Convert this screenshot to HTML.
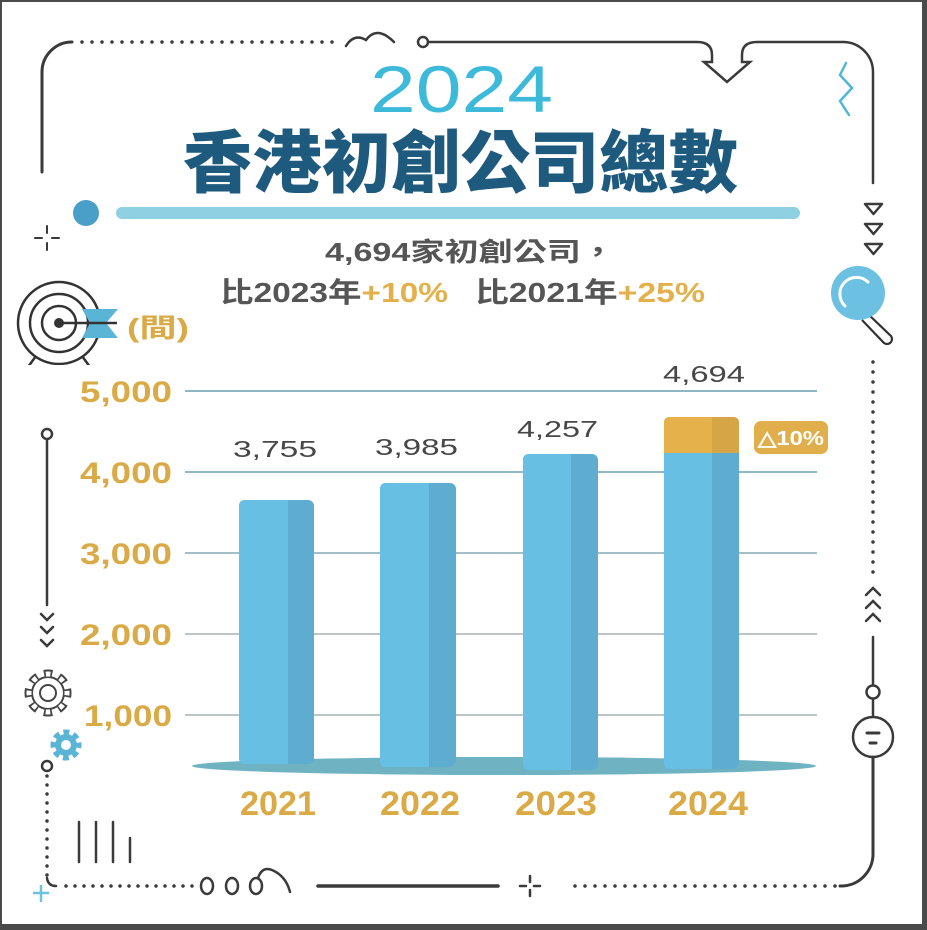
<!DOCTYPE html>
<html><head><meta charset="utf-8"><style>
html,body{margin:0;padding:0;background:#fff;}
svg{display:block;}
.cjk{font-family:"Liberation Sans","Noto Sans CJK TC","Noto Sans CJK SC",sans-serif;}
.lat{font-family:"Liberation Sans",sans-serif;}
</style></head><body>
<svg width="927" height="930" viewBox="0 0 927 930" xmlns="http://www.w3.org/2000/svg">
<rect x="0" y="0" width="927" height="930" fill="#4a4a4a"/>
<rect x="2" y="2" width="920" height="922" fill="#ffffff"/>

<!-- frame lines -->
<g fill="none" stroke="#3a3a3a" stroke-width="3" stroke-linecap="round">
  <path d="M42,172 V72 A30,30 0 0 1 72,42"/>
  <path d="M82,42 H338" stroke-dasharray="0 10" stroke-width="3.5"/>
  <path d="M346,46 Q354,33 366,40 Q377,25 394,42" stroke-width="2.5"/>
  <circle cx="423" cy="42" r="5" stroke-width="2.5"/>
  <path d="M428,42 H697 Q712,42 712,55 V62 H704 L727,82 L750,62 H742 V55 Q742,42 757,42 H843 A30,30 0 0 1 873,72 V183" stroke-width="2.5"/>
  <!-- right side -->
  <path d="M873,362 V575" stroke-dasharray="0 10" stroke-width="3.5"/>
  <path d="M866,595 L873,588 L880,595 M866,608 L873,601 L880,608 M866,621 L873,614 L880,621" stroke-width="2.5"/>
  <path d="M873,637 V685" stroke-width="2.5"/>
  <circle cx="873" cy="692" r="6.5" stroke-width="2.5"/>
  <path d="M873,699 V716" stroke-width="2.5"/>
  <circle cx="873" cy="737" r="20" stroke-width="2.5"/>
  <path d="M873,757 V853 A32,32 0 0 1 840,886" stroke-width="3"/>
  <path d="M835,886 H572" stroke-dasharray="0 10" stroke-width="3.5"/>
  <!-- bottom -->
  <path d="M530,876 V882 M530,890 V896 M520,886 H526 M534,886 H540" stroke-width="2.5"/>
  <path d="M318,886 H498" stroke-width="3.5"/>
  <ellipse cx="207" cy="886" rx="6" ry="8" stroke-width="2.5"/>
  <ellipse cx="232" cy="886" rx="6" ry="8" stroke-width="2.5"/>
  <ellipse cx="256" cy="886" rx="6" ry="8" stroke-width="2.5"/>
  <path d="M258,878 Q262,866 272,870 Q286,876 290,892" stroke-width="2.5"/>
  <path d="M192,886 H60" stroke-dasharray="0 9" stroke-width="3.5"/>
  <path d="M47,776 V880" stroke-dasharray="0 9" stroke-width="3.5"/>
  <path d="M47,878 Q48,886 56,886" stroke-width="2.5"/>
  <circle cx="47" cy="766" r="5" stroke-width="2.5"/>
  <!-- left side -->
  <circle cx="47" cy="434" r="5" stroke-width="2.5"/>
  <path d="M47,440 V605" stroke-width="2.5"/>
  <path d="M41,614 L47,620 L53,614 M41,627 L47,633 L53,627 M41,640 L47,646 L53,640" stroke-width="2.5"/>
  <!-- crosses -->
  <path d="M47,226 V233 M47,243 V250 M35,238 H42 M52,238 H59" stroke-width="2"/>
  <!-- four vertical lines -->
  <path d="M79,822 V862 M96,822 V862 M113,822 V862 M130,838 V862" stroke-width="2.5"/>
  <!-- triangles -->
  <path d="M865,204 H882 L873.5,214 Z M865,224 H882 L873.5,234 Z M865,244 H882 L873.5,254 Z" stroke-width="2.5" stroke-linejoin="round"/>
  <!-- equals in circle -->
  <path d="M867,733 H879 M870,743 H876" stroke-width="3"/>
</g>

<!-- cyan plus bottom-left -->
<path d="M41,885 V902 M33,893 H49" stroke="#6cc3df" stroke-width="2.5" fill="none"/>
<!-- cyan zigzag -->
<path d="M846,63 L840,75 L852,88 L840,101 L849,115" stroke="#4fb6dc" stroke-width="2.5" fill="none" stroke-linecap="round"/>

<!-- magnifier -->
<g>
  <path d="M868,314 L891,336 A5,5 0 0 1 884,343 L862,320" fill="#fff" stroke="#333" stroke-width="2.2"/>
  <circle cx="858" cy="293" r="27" fill="#6cc0e2"/>
  <path d="M845,306 A16,16 0 0 1 868,282" fill="none" stroke="#fff" stroke-width="3" stroke-linecap="round"/>
</g>

<!-- target icon -->
<g fill="none" stroke="#333" stroke-width="2.5">
  <circle cx="59" cy="323" r="41"/>
  <circle cx="59" cy="323" r="29"/>
  <circle cx="59" cy="323" r="17"/>
  <path d="M28,367 L36,356 M90,367 L82,356"/>
</g>
<rect x="24" y="365" width="72" height="6" fill="#fff"/>
<polygon points="82,309 118,309 106,323 118,338 82,338 90,323" fill="#5ab4d6"/>
<line x1="59" y1="323" x2="117" y2="323" stroke="#333" stroke-width="2.5"/>
<circle cx="59" cy="323" r="5" fill="#333"/>

<!-- outline gear -->
<g transform="translate(48,693)">
  <circle r="19" fill="none" stroke="#444" stroke-width="9" stroke-dasharray="8 6.92" stroke-dashoffset="4"/>
  <circle r="17" fill="#444"/>
  <circle r="19" fill="none" stroke="#fff" stroke-width="5" stroke-dasharray="4.6 10.32" stroke-dashoffset="2.3"/>
  <circle r="15" fill="#fff"/>
  <circle r="8" fill="none" stroke="#444" stroke-width="2"/>
</g>
<!-- blue gear -->
<g transform="translate(66,745)">
  <circle r="12" fill="none" stroke="#5ab4d6" stroke-width="7" stroke-dasharray="5.5 3.92" stroke-dashoffset="2.75"/>
  <circle r="11" fill="#5ab4d6"/>
  <circle r="5" fill="#fff"/>
</g>

<!-- title -->
<text x="370" y="112" class="lat" font-size="66" fill="#3db9d9" textLength="183" lengthAdjust="spacingAndGlyphs">2024</text>
<text x="183" y="187" class="cjk" font-size="68" font-weight="900" fill="#1e5a7e" textLength="555" lengthAdjust="spacingAndGlyphs">香港初創公司總數</text>

<!-- cyan bar and dot -->
<rect x="116" y="207" width="684" height="12" rx="6" fill="#8fd0e3"/>
<circle cx="86" cy="213" r="13" fill="#4a9fc8"/>

<!-- subtitle -->
<text x="325" y="261" class="cjk" font-size="26" font-weight="700" fill="#555" textLength="290" lengthAdjust="spacingAndGlyphs">4,694家初創公司，</text>
<text x="220" y="302" class="cjk" font-size="28" font-weight="700" fill="#555" textLength="228" lengthAdjust="spacingAndGlyphs">比2023年<tspan fill="#e3b04b">+10%</tspan></text>
<text x="475" y="302" class="cjk" font-size="28" font-weight="700" fill="#555" textLength="230" lengthAdjust="spacingAndGlyphs">比2021年<tspan fill="#e3b04b">+25%</tspan></text>

<!-- unit -->
<text x="127" y="337" class="cjk" font-size="26" font-weight="700" fill="#d9aa45" textLength="62" lengthAdjust="spacingAndGlyphs">(間)</text>

<!-- gridlines -->
<g stroke-width="2">
  <line x1="185" y1="391" x2="817" y2="391" stroke="#8db8c4"/>
  <line x1="185" y1="472" x2="817" y2="472" stroke="#8db8c4"/>
  <line x1="185" y1="553" x2="817" y2="553" stroke="#a3c0c8"/>
  <line x1="185" y1="634" x2="817" y2="634" stroke="#bcc5c8"/>
  <line x1="185" y1="715" x2="817" y2="715" stroke="#bcc5c8"/>
</g>

<!-- y labels -->
<g class="lat" font-size="30" font-weight="700" fill="#d9aa45" text-anchor="end">
  <text x="172" y="402" textLength="92" lengthAdjust="spacingAndGlyphs">5,000</text>
  <text x="172" y="483" textLength="92" lengthAdjust="spacingAndGlyphs">4,000</text>
  <text x="172" y="564" textLength="92" lengthAdjust="spacingAndGlyphs">3,000</text>
  <text x="172" y="645" textLength="92" lengthAdjust="spacingAndGlyphs">2,000</text>
  <text x="172" y="726" textLength="88" lengthAdjust="spacingAndGlyphs">1,000</text>
</g>

<!-- base ellipse -->
<ellipse cx="504" cy="766" rx="312" ry="9" fill="#6fb2c2"/>

<!-- bars -->
<g>
  <rect x="239" y="500" width="75" height="264" rx="6" fill="#5eadd1"/>
  <path d="M239,758 V506 Q239,500 245,500 H288 V764 H245 Q239,764 239,758 Z" fill="#68bfe4"/>

  <rect x="380" y="483" width="76" height="284" rx="6" fill="#5eadd1"/>
  <path d="M380,761 V489 Q380,483 386,483 H429 V767 H386 Q380,767 380,761 Z" fill="#68bfe4"/>

  <rect x="523" y="454" width="75" height="316" rx="6" fill="#5eadd1"/>
  <path d="M523,764 V460 Q523,454 529,454 H571 V770 H529 Q523,770 523,764 Z" fill="#68bfe4"/>

  <rect x="664" y="417" width="75" height="352" rx="6" fill="#5eadd1"/>
  <path d="M664,763 V453 H712 V769 H670 Q664,769 664,763 Z" fill="#68bfe4"/>
  <path d="M664,453 V423 Q664,417 670,417 H733 Q739,417 739,423 V453 Z" fill="#d6a545"/>
  <path d="M664,453 V423 Q664,417 670,417 H712 V453 Z" fill="#e4b14a"/>
</g>

<!-- value labels -->
<g class="lat" font-size="23" fill="#474747">
  <text x="233" y="457" textLength="84" lengthAdjust="spacingAndGlyphs">3,755</text>
  <text x="375" y="455" textLength="83" lengthAdjust="spacingAndGlyphs">3,985</text>
  <text x="517" y="437" textLength="81" lengthAdjust="spacingAndGlyphs">4,257</text>
  <text x="663" y="382" textLength="82" lengthAdjust="spacingAndGlyphs">4,694</text>
</g>

<!-- badge -->
<rect x="754" y="421" width="74" height="33" rx="7" fill="#e0ae4a"/>
<text x="758" y="445" class="lat" font-size="20" font-weight="700" fill="#fff" textLength="66" lengthAdjust="spacingAndGlyphs">△10%</text>

<!-- year labels -->
<g class="lat" font-size="34" font-weight="700" fill="#d9aa45">
  <text x="240" y="815" textLength="76" lengthAdjust="spacingAndGlyphs">2021</text>
  <text x="380" y="815" textLength="80" lengthAdjust="spacingAndGlyphs">2022</text>
  <text x="515" y="815" textLength="82" lengthAdjust="spacingAndGlyphs">2023</text>
  <text x="668" y="815" textLength="80" lengthAdjust="spacingAndGlyphs">2024</text>
</g>
</svg>
</body></html>
